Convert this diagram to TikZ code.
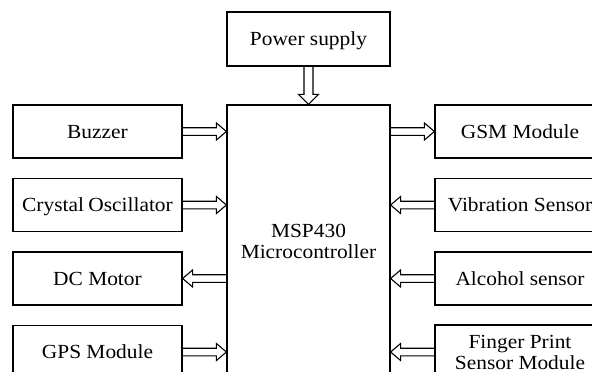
\documentclass[tikz,border=0pt]{standalone}
\usepackage{fontspec}
\setmainfont[FakeStretch=1.07]{Liberation Serif}
\usetikzlibrary{calc}
\tikzset{
 blk/.style={draw, line width=1.2pt, minimum width=169pt, minimum height=53pt, inner sep=0pt,
   font=\fontsize{20}{21}\selectfont, text height=13.2pt, text depth=0pt},
 blktwo/.style={draw, line width=1.2pt, minimum width=169pt, minimum height=54pt, inner sep=0pt,
   align=center, font=\fontsize{20}{21}\selectfont},
 conn/.style={line width=1.1pt, line join=miter}
}
% horizontal double arrow: #1 tail, #2 tip, #3 head length (positive: points right)
\newcommand\harr[3]{\draw[conn] let \p1=(#1), \p2=(#2), \n1={#3} in
  (\x1,\y1+3.8pt) -- ({\x2-\n1},\y1+3.8pt) -- ({\x2-\n1},\y1+8.5pt) -- (\x2,\y1)
  -- ({\x2-\n1},\y1-8.5pt) -- ({\x2-\n1},\y1-3.8pt) -- (\x1,\y1-3.8pt);}
% vertical double arrow pointing down: #1 tail, #2 tip
\newcommand\varr[2]{\draw[conn] let \p1=(#1), \p2=(#2) in
  (\x1-4.5pt,\y1) -- (\x1-4.5pt,\y2+10pt) -- (\x1-10pt,\y2+10pt) -- (\x1,\y2)
  -- (\x1+10pt,\y2+10pt) -- (\x1+4.5pt,\y2+10pt) -- (\x1+4.5pt,\y1);}
\begin{document}
\begin{tikzpicture}[x=1pt,y=-1pt]
\useasboundingbox (0,0) rectangle (592,372);
\clip (0,0) rectangle (592,372);
% centre blocks
\node[blk, minimum width=163pt, minimum height=54pt] (pwr) at (308.5,39) {Power supply};
\node[draw, line width=1.2pt, minimum width=163pt, minimum height=273pt, inner sep=0pt,
  align=center, font=\fontsize{20}{21}\selectfont] (mcu) at (308.5,241.5) {MSP430\\Microcontroller};
% left blocks
\node[blk] (buz) at (97.5,131.5) {Buzzer};
\node[blk] (cry) at (97.5,205) {Crystal\hspace{-1pt} Oscillator};
\node[blk] (dcm) at (97.5,278.5) {DC Motor};
\node[blk] (gps) at (97.5,352) {GPS Module};
% right blocks
\node[blk, minimum width=170pt] (gsm) at (520,131.5) {GSM Module};
\node[blk, minimum width=170pt] (vib) at (520,205) {Vibration Sensor};
\node[blk, minimum width=170pt] (alc) at (520,278.5) {Alcohol sensor};
\node[blktwo, minimum width=170pt] (fin) at (520,352) {Finger Print\\Sensor Module};
% connectors
\varr{pwr.south}{mcu.north}
\harr{buz.east}{buz.east -| mcu.west}{10pt}
\harr{cry.east}{cry.east -| mcu.west}{10pt}
\harr{dcm.east -| mcu.west}{dcm.east}{-10pt}
\harr{gps.east}{gps.east -| mcu.west}{10pt}
\harr{gsm.west -| mcu.east}{gsm.west}{10pt}
\harr{vib.west}{vib.west -| mcu.east}{-10pt}
\harr{alc.west}{alc.west -| mcu.east}{-10pt}
\harr{fin.west}{fin.west -| mcu.east}{-10pt}
\end{tikzpicture}
\end{document}
